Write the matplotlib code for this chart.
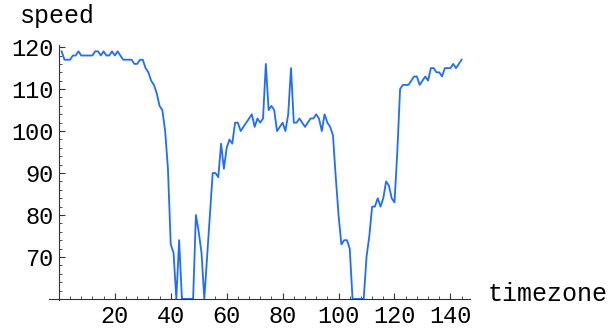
import matplotlib
matplotlib.use('Agg')
import matplotlib.pyplot as plt
from matplotlib.ticker import MultipleLocator

# speed per timezone (values at 60 sit on the axis)
speed = [119, 117, 117, 117, 118, 118, 119, 118, 118, 118,
         118, 118, 119, 119, 118, 119, 118, 118, 119, 118,
         119, 118, 117, 117, 117, 117, 116, 116, 117, 117,
         115, 114, 112, 111, 109, 106, 105, 100, 91, 73,
         71, 60, 74, 60, 60, 60, 60, 60, 80, 76,
         71, 60, 70, 80, 90, 90, 89, 97, 91, 96,
         98, 97, 102, 102, 100, 101, 102, 103, 104, 101,
         103, 102, 103, 116, 105, 106, 105, 100, 101, 102,
         100, 104, 115, 102, 102, 103, 102, 101, 102, 103,
         103, 104, 103, 100, 104, 102, 101, 99, 89, 80,
         73, 74, 74, 72, 60, 60, 60, 60, 60, 70,
         75, 82, 82, 84, 82, 84, 88, 87, 84, 83,
         95, 110, 111, 111, 111, 112, 113, 113, 111, 112,
         113, 112, 115, 115, 114, 114, 113, 115, 115, 115,
         116, 115, 116, 117]
timezone = list(range(1, len(speed) + 1))

x_ticks = [20, 40, 60, 80, 100, 120, 140]
y_ticks = [70, 80, 90, 100, 110, 120]

font = 'Liberation Mono'

fig = plt.figure(figsize=(6.16, 3.28), dpi=100)
ax = fig.add_axes([0.0792, 0.086, 0.6838, 0.778])

ax.plot(timezone, speed, color='#1f6dfa', lw=1.3, clip_on=False)

ax.set_xlim(-3.6, 147)
ax.set_ylim(59.8, 120.6)

ax.spines['top'].set_visible(False)
ax.spines['right'].set_visible(False)
ax.spines['left'].set_position(('data', 0))
ax.spines['bottom'].set_position(('data', 60))
for s in ['left', 'bottom']:
    ax.spines[s].set_color('#333333')
    ax.spines[s].set_linewidth(0.8)

ax.set_xticks(x_ticks)
ax.set_yticks(y_ticks)
ax.xaxis.set_minor_locator(MultipleLocator(4))
ax.yaxis.set_minor_locator(MultipleLocator(2))
ax.tick_params(which='major', direction='in', length=4, width=0.8,
               color='#333333', labelsize=17, pad=4)
ax.tick_params(which='minor', direction='in', length=2, width=0.6,
               color='#333333')
for lab in ax.get_xticklabels() + ax.get_yticklabels():
    lab.set_family(font)

fig.text(20 / 616, 1 - 23 / 328, 'speed', family=font, fontsize=18,
         va='baseline', ha='left')
fig.text(488 / 616, 1 - 301 / 328, 'timezone', family=font, fontsize=18,
         va='baseline', ha='left')

plt.savefig('out.png', dpi=100)
